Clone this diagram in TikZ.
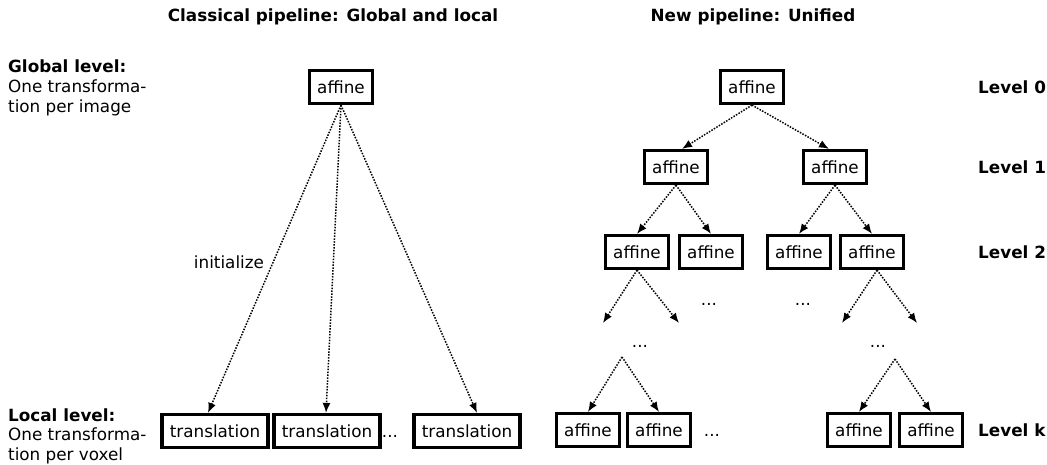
\documentclass[tikz,border=0pt]{standalone}
\usepackage{fontspec}
\setmainfont{DejaVu Sans}
\usetikzlibrary{arrows.meta,calc}
\begin{document}
\begin{tikzpicture}[x=1pt,y=-1pt,
  every node/.style={font=\fontsize{16.8}{20}\selectfont},
  tbox/.style={draw, line width=3.2pt, inner xsep=7.8pt, inner ysep=0pt, minimum height=33pt},
  plain/.style={inner sep=0pt},
  bold/.style={inner sep=0pt, font=\fontsize{16.8}{20}\selectfont\bfseries},
  conn/.style={line width=1.5pt, dash pattern=on 1.5pt off 1.4pt, -{Latex[length=10pt,width=8pt]}}
]
\useasboundingbox (0,0) rectangle (1047,464);

% titles
\node[bold] (title1) at (333,17) {Classical pipeline: Global and local};
\node[bold] (title2) at (753,17) {New pipeline: Unified};

% left labels
\node[bold, anchor=base west] (gl1) at (8,72) {Global level:};
\node[plain, anchor=base west] (gl2) at (8,92) {One transforma-};
\node[plain, anchor=base west] (gl3) at (8,112) {tion per image};
\node[bold, anchor=base west] (ll1) at (8,421) {Local level:};
\node[plain, anchor=base west] (ll2) at (8,440.5) {One transforma-};
\node[plain, anchor=base west] (ll3) at (8,460) {tion per voxel};

% classical pipeline
\node[tbox] (A0) at (341,87) {affine};
\node[tbox] (T1) at (215,431) {translation};
\node[tbox] (T2) at (327,431) {translation};
\node[plain, anchor=base] (tdots) at (390,437) {...};
\node[tbox] (T3) at (467,431) {translation};
\node[plain] (init) at (229,262) {initialize};

\draw[conn] (A0.south) -- ($(T1.north)+(-7,0)$);
\draw[conn] (A0.south) -- ($(T2.north)+(-1,0)$);
\draw[conn] (A0.south) -- ($(T3.north)+(10,0)$);

% new pipeline
\node[tbox] (R0) at (752,87) {affine};
\node[tbox] (R1a) at (676,167) {affine};
\node[tbox] (R1b) at (835,167) {affine};
\node[tbox] (R2a) at (637,252) {affine};
\node[tbox] (R2b) at (711,252) {affine};
\node[tbox] (R2c) at (799,252) {affine};
\node[tbox] (R2d) at (872,252) {affine};
\node[plain, anchor=base] (d1) at (709,305) {...};
\node[plain, anchor=base] (d2) at (803,305) {...};
\node[plain, anchor=base] (m1) at (640,347) {...};
\node[plain, anchor=base] (m2) at (878,347) {...};
\coordinate (c1) at (603,323);
\coordinate (c2) at (679,323);
\coordinate (c3) at (842,323);
\coordinate (c4) at (917,323);
\coordinate (p1) at (622,357);
\coordinate (p2) at (895,359);
\node[tbox] (K1) at (588,430) {affine};
\node[tbox] (K2) at (659,430) {affine};
\node[plain, anchor=base] (kdots) at (712,436) {...};
\node[tbox] (K3) at (859,430) {affine};
\node[tbox] (K4) at (931,430) {affine};

\node[bold, anchor=west] (L0) at (978,87) {Level 0};
\node[bold, anchor=west] (L1) at (978,167) {Level 1};
\node[bold, anchor=west] (L2) at (978,252) {Level 2};
\node[bold, anchor=west] (Lk) at (978,430) {Level k};

\draw[conn] (R0.south) -- ($(R1a.north)+(6,0)$);
\draw[conn] (R0.south) -- ($(R1b.north)+(-6,0)$);
\draw[conn] (R1a.south) -- (R2a.north);
\draw[conn] (R1a.south) -- (R2b.north);
\draw[conn] (R1b.south) -- (R2c.north);
\draw[conn] (R1b.south) -- (R2d.north);
\draw[conn] (R2a.south) -- (c1);
\draw[conn] (R2a.south) -- (c2);
\draw[conn] ($(R2d.south)+(5,0)$) -- (c3);
\draw[conn] ($(R2d.south)+(5,0)$) -- (c4);
\draw[conn] (p1) -- (K1.north);
\draw[conn] (p1) -- (K2.north);
\draw[conn] (p2) -- (K3.north);
\draw[conn] (p2) -- (K4.north);
\end{tikzpicture}
\end{document}
